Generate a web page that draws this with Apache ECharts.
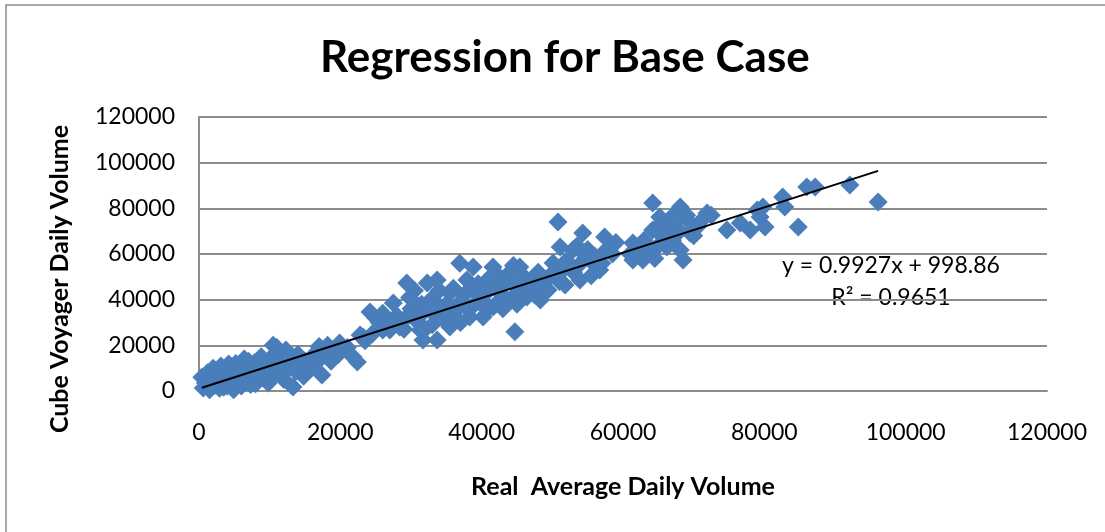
<!DOCTYPE html>
<html>
<head>
<meta charset="utf-8">
<script src="https://cdn.jsdelivr.net/npm/echarts@6/dist/echarts.min.js"></script>
<style>
  html, body { margin: 0; padding: 0; background: #fff; }
  #chartDom { width: 1105px; height: 532px; }
</style>
</head>
<body>
<div id="chartDom"></div>
<script>
// 读图估计的散点：x = 实测日均流量，y = Cube Voyager 日流量
var realVolume = [
  400, 600, 900, 1200, 1500, 1700, 2000, 2300, 2600, 2900, 3100, 3400, 3700, 4000, 4300, 4600, 4900, 5200, 5500, 5800,
  6100, 6400, 6700, 7000, 7300, 7600, 7900, 8200, 8500, 1200, 2500, 3000, 3500, 4500, 5000, 6000, 7000, 8000, 1800, 2200,
  4200, 5700, 6800,
  9000, 9500, 10000, 10500, 10800, 11200, 11500, 12000, 12300, 12700, 13000, 13300, 13700, 14000, 14500, 15000, 15500, 16000, 16500, 17000,
  17400, 17800, 18200, 18700, 19200, 19700, 11000, 9800, 14800, 12000, 16800, 8800, 10200,
  19900, 21800, 22400, 22800, 23200, 24200, 25000, 26000, 26600, 27000, 27500, 28400, 29400, 29400, 30300, 21000, 23500, 25500, 28000, 29000,
  24500, 27800, 30000, 29800, 26000,
  31700, 32300, 33700, 33700, 34100, 35500, 36900, 37900, 38800, 39800, 31300, 35100, 36500, 38300, 40200, 31000, 32000, 32800, 33000, 34000,
  34500, 35000, 36000, 36000, 37000, 37500, 38000, 38500, 39000, 39500, 31500, 33500, 35500, 37000, 30500, 32000,
  41600, 40800, 43600, 44400, 42600, 40800, 46400, 48300, 44700, 45400, 47300, 49200, 41600, 40000, 41000, 42000, 42500, 43000, 43500, 44000,
  45000, 45500, 46000, 46500, 47000, 47500, 48000, 48500, 49000, 49500, 41500, 43000, 45000, 44500,
  50800, 54300, 51100, 52900, 54300, 50100, 51500, 55300, 56300, 53900, 57400, 58200, 56700, 57200, 50000, 51800, 49400, 50500, 52000, 53000,
  54000, 55000, 56000, 57000, 58500, 59000, 53500, 51000, 55500,
  61400, 62400, 61400, 62800, 63800, 64800, 66200, 68100, 68500, 64200, 68100, 67100, 65200, 66200, 64200, 69100, 69500, 70500, 63000, 65500,
  67000, 68000, 66500, 69000, 63500, 65000, 67500, 70000, 61000, 64500,
  71900, 74700, 76600, 78000, 79000, 79800, 80100, 79400, 70900, 72500, 82600, 82900, 84800, 86000, 87200, 92100, 96100
];
var cubeVolume = [
  6000, 1300, 3500, 8000, 600, 4800, 10000, 2500, 6500, 1200, 11000, 4000, 7800, 2200, 9200, 5500, 500, 12000, 3500, 8000,
  6200, 14000, 4500, 10500, 2800, 7200, 12500, 5000, 9000, 5800, 4200, 8600, 1600, 7000, 10000, 2200, 13000, 3200, 2000, 7200,
  11800, 6600, 8600,
  6000, 11000, 14000, 20000, 8000, 16000, 12000, 5000, 18000, 10000, 14500, 1800, 8500, 16000, 11000, 13000, 9000, 15000, 12000, 19500,
  7000, 16000, 20000, 13000, 18500, 16000, 19000, 3500, 6500, 13000, 17500, 15000, 9500,
  21000, 14900, 12700, 24500, 23700, 34600, 32000, 26700, 31100, 26700, 38500, 28000, 47300, 32400, 32400, 19000, 22000, 30000, 33000, 27000,
  25000, 30000, 36000, 41000, 34000,
  22300, 47300, 48600, 22300, 36800, 42900, 56000, 48600, 54300, 41200, 26700, 31100, 36800, 32400, 32400, 30000, 35000, 40000, 29000, 44000,
  32000, 38000, 34000, 45000, 39000, 42000, 36000, 45000, 38000, 47000, 38000, 33000, 28000, 30000, 44000, 27000,
  54300, 48600, 48600, 41200, 42900, 35500, 41200, 39900, 26000, 54300, 44200, 48600, 36800, 40000, 44000, 38000, 50000, 46000, 40000, 52000,
  47000, 43000, 50000, 45000, 48000, 42000, 52000, 46000, 44000, 50000, 47000, 36000, 38000, 55000,
  74000, 69200, 63100, 61800, 60400, 56100, 53000, 57400, 53000, 48600, 67500, 63100, 53000, 60400, 50800, 46400, 44200, 52000, 57000, 52000,
  56000, 62000, 59000, 56000, 60000, 65000, 63500, 48000, 50500,
  64800, 61800, 57400, 57400, 60400, 63100, 63100, 61800, 57400, 82300, 80600, 73600, 76200, 69200, 70500, 74900, 69200, 71800, 66000, 68000,
  66000, 70000, 75000, 77000, 63000, 72000, 78000, 68000, 60000, 58000,
  78000, 70500, 73600, 70500, 79300, 80600, 71800, 76200, 74000, 77000, 85000, 80600, 71800, 89300, 89300, 90200, 82800
];
// 图上标注的趋势线系数
var slope = 0.9927;
var intercept = 998.86;
var rSquared = '0.9651';
var axisMin = 0, axisMax = 120000, axisStep = 20000;

var points = realVolume.map(function (x, i) { return [x, cubeVolume[i]]; });
var xLo = Math.min.apply(null, realVolume);
var xHi = Math.max.apply(null, realVolume);
var trend = [[xLo, slope * xLo + intercept], [xHi, slope * xHi + intercept]];

var font = 'Lato, "Open Sans", sans-serif';
var chartDom = document.getElementById('chartDom');
var myChart = echarts.init(chartDom);
var option = {
  animation: false,
  backgroundColor: '#fff',
  title: {
    text: 'Regression for Base Case',
    left: 315,
    top: 31,
    textStyle: { fontFamily: font, fontSize: 44, fontWeight: 'bold', color: '#000' }
  },
  graphic: [
    {
      type: 'rect',
      shape: { x: 6, y: 5, width: 1300, height: 700 },
      style: { fill: 'none', stroke: '#8c8c8c', lineWidth: 1.5 },
      silent: true
    },
    {
      // y 轴标题（比绘图区中心略低）
      type: 'text',
      x: 60, y: 279,
      rotation: Math.PI / 2,
      style: {
        x: 0, y: 0, text: 'Cube Voyager Daily Volume',
        fontFamily: font, fontSize: 25, fontWeight: 'bold', fill: '#000', align: 'center', verticalAlign: 'middle'
      }
    },
    {
      type: 'text',
      style: {
        x: 891, y: 266, text: 'y = 0.9927x + 998.86',
        fontFamily: font, fontSize: 23, fill: '#000', align: 'center', verticalAlign: 'middle'
      }
    },
    {
      type: 'text',
      style: {
        x: 891, y: 298, text: 'R² = ' + rSquared,
        fontFamily: font, fontSize: 23, fill: '#000', align: 'center', verticalAlign: 'middle'
      }
    }
  ],
  grid: { left: 199, right: 58, top: 117, bottom: 141 },
  xAxis: {
    type: 'value',
    min: axisMin, max: axisMax, interval: axisStep,
    name: 'Real  Average Daily Volume',
    nameLocation: 'middle',
    nameGap: 83,
    nameTextStyle: { fontFamily: font, fontSize: 25, fontWeight: 'bold', color: '#000' },
    axisLine: { show: true, lineStyle: { color: '#8c8c8c', width: 2 } },
    axisTick: { show: false },
    splitLine: { show: false },
    axisLabel: { fontFamily: font, fontSize: 23, color: '#000', margin: 30, formatter: function (v) { return String(v); } }
  },
  yAxis: {
    type: 'value',
    min: axisMin, max: axisMax, interval: axisStep,
    axisLine: { show: true, lineStyle: { color: '#8c8c8c', width: 2 } },
    axisTick: { show: false },
    splitLine: { show: true, lineStyle: { color: '#8c8c8c', width: 2 } },
    axisLabel: { fontFamily: font, fontSize: 23, color: '#000', margin: 24, formatter: function (v) { return String(v); } }
  },
  series: [
    {
      type: 'scatter',
      data: points,
      symbol: 'diamond',
      symbolSize: 19,
      itemStyle: { color: '#4a7ebb', opacity: 1 }
    },
    {
      type: 'line',
      data: trend,
      showSymbol: false,
      lineStyle: { color: '#000', width: 2 },
      z: 3
    }
  ]
};
option && myChart.setOption(option);
</script>
</body>
</html>
